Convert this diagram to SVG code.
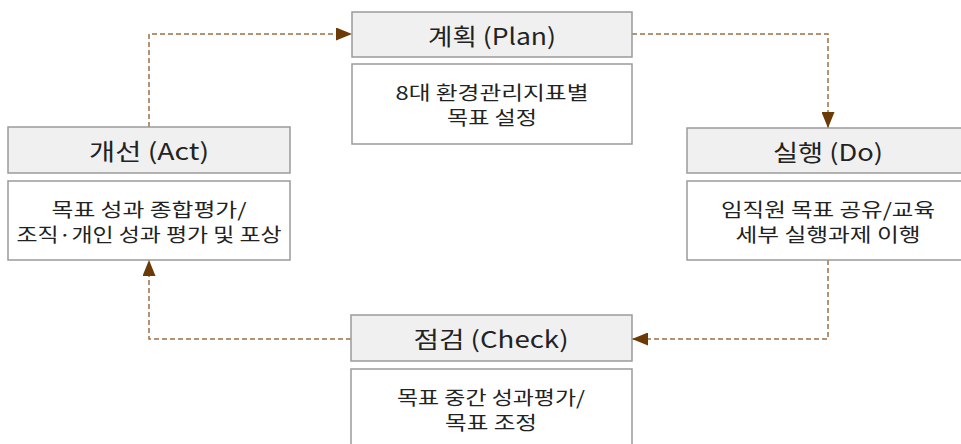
<svg xmlns="http://www.w3.org/2000/svg" width="961" height="444" viewBox="0 0 961 444">
<style>
.hd{fill:#f0f0f0;stroke:#9a9a9a;stroke-width:1.5}
.ds{fill:#ffffff;stroke:#9a9a9a;stroke-width:1.5}
.ht{font-family:"Noto Sans CJK KR","Noto Sans",sans-serif;font-size:23px;fill:#222;text-anchor:middle;dominant-baseline:central}
.dt{font-family:"Noto Sans CJK KR","Noto Sans",sans-serif;font-size:19px;fill:#222;text-anchor:middle;dominant-baseline:central}
.cn{fill:none;stroke:#9c7048;stroke-width:1.5;stroke-dasharray:5 3;marker-end:url(#ah)}
</style>
<defs>
<marker id="ah" viewBox="0 0 16 13" refX="16" refY="6.5" markerWidth="16" markerHeight="13" orient="auto" markerUnits="userSpaceOnUse">
<path d="M0,0 L16,6.5 L0,13 z" fill="#6b3a06"/>
</marker>
</defs>
<rect width="961" height="444" fill="#ffffff"/>
<g id="connectors">
<path class="cn" d="M149,127 V34 H352"/>
<path class="cn" d="M632,34 H828 V128"/>
<path class="cn" d="M828,260 V339 H632"/>
<path class="cn" d="M351,339 H149 V260"/>
</g>
<g id="plan">
<rect class="hd" x="352" y="12" width="280" height="45"/>
<text class="ht" x="492" y="34.5" textLength="128" lengthAdjust="spacingAndGlyphs">계획 (Plan)</text>
<rect class="ds" x="352" y="64" width="280" height="80"/>
<text class="dt" x="492" y="91.5" textLength="193" lengthAdjust="spacingAndGlyphs">8대 환경관리지표별</text>
<text class="dt" x="492" y="116.5" textLength="90" lengthAdjust="spacingAndGlyphs">목표 설정</text>
</g>
<g id="do">
<rect class="hd" x="687" y="128" width="282" height="45"/>
<text class="ht" x="828" y="150.5" textLength="110" lengthAdjust="spacingAndGlyphs">실행 (Do)</text>
<rect class="ds" x="687" y="181" width="282" height="79"/>
<text class="dt" x="828" y="208" textLength="214" lengthAdjust="spacingAndGlyphs">임직원 목표 공유/교육</text>
<text class="dt" x="828" y="233" textLength="185" lengthAdjust="spacingAndGlyphs">세부 실행과제 이행</text>
</g>
<g id="check">
<rect class="hd" x="351" y="315" width="281" height="46"/>
<text class="ht" x="491" y="338" textLength="155" lengthAdjust="spacingAndGlyphs">점검 (Check)</text>
<rect class="ds" x="351" y="369" width="281" height="80"/>
<text class="dt" x="491" y="396.5" textLength="188" lengthAdjust="spacingAndGlyphs">목표 중간 성과평가/</text>
<text class="dt" x="491" y="421.5" textLength="92" lengthAdjust="spacingAndGlyphs">목표 조정</text>
</g>
<g id="act">
<rect class="hd" x="8" y="127" width="282" height="46"/>
<text class="ht" x="149" y="150" textLength="120" lengthAdjust="spacingAndGlyphs">개선 (Act)</text>
<rect class="ds" x="8" y="181" width="282" height="79"/>
<text class="dt" x="149" y="208" textLength="195" lengthAdjust="spacingAndGlyphs">목표 성과 종합평가/</text>
<text class="dt" x="149" y="233" textLength="265" lengthAdjust="spacingAndGlyphs">조직·개인 성과 평가 및 포상</text>
</g>
</svg>
